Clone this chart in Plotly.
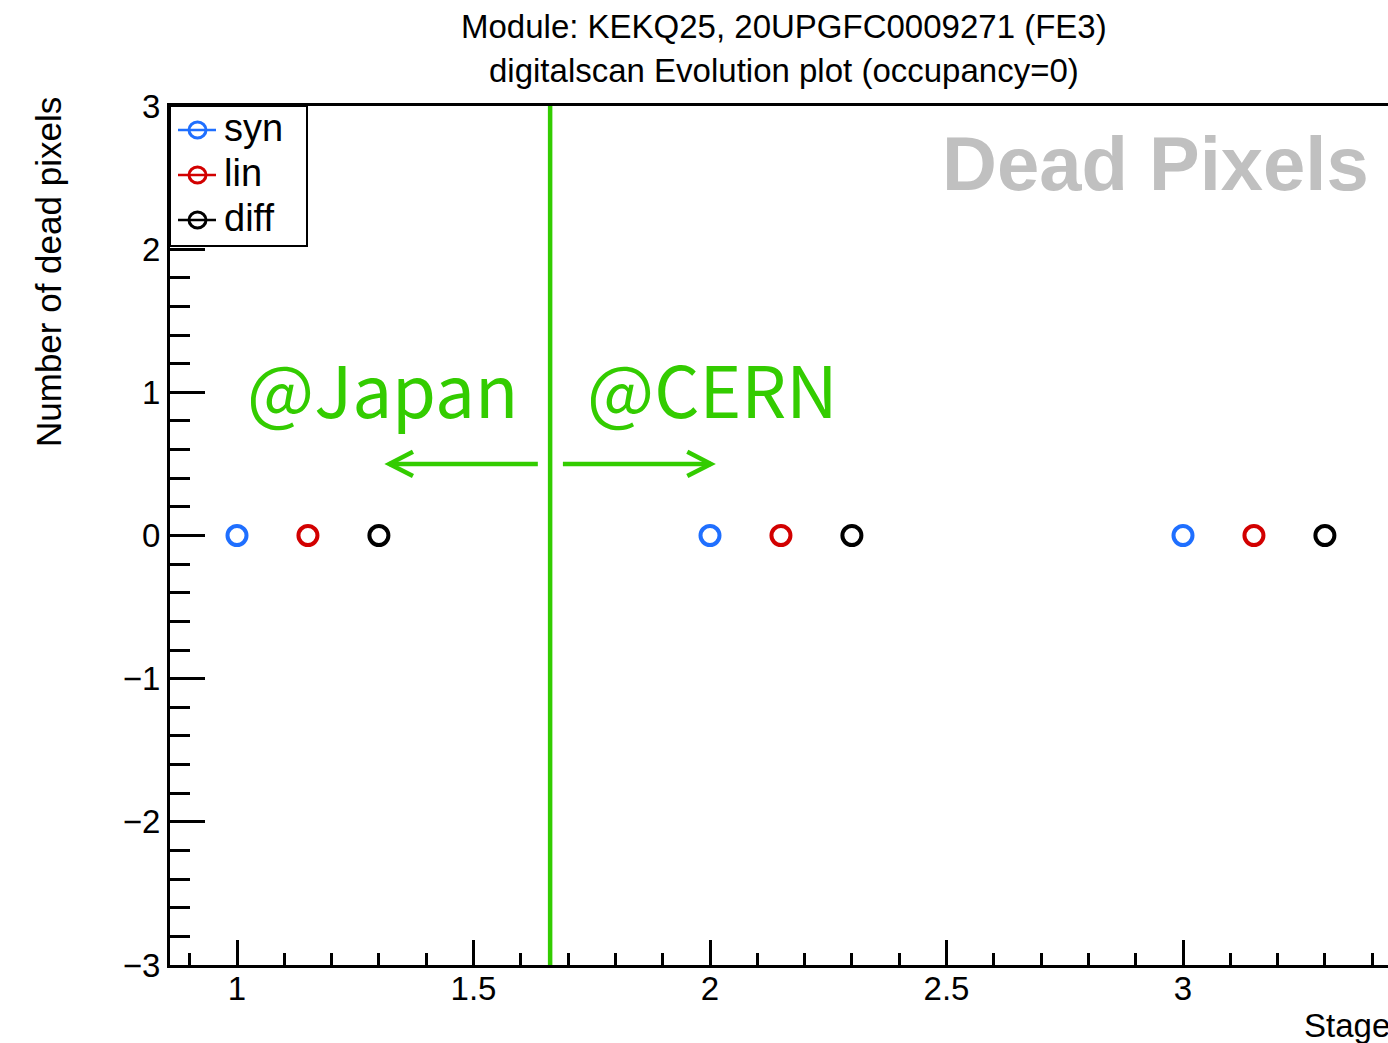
import plotly.graph_objects as go

# ---- data ----
syn_x = [1.0, 2.0, 3.0]
syn_y = [0, 0, 0]
lin_x = [1.15, 2.15, 3.15]
lin_y = [0, 0, 0]
diff_x = [1.3, 2.3, 3.3]
diff_y = [0, 0, 0]
series_names = ["syn", "lin", "diff"]
series_colors = ["#1f6fff", "#d20000", "#000000"]
site_boundary = 1.662
title_lines = ["Module: KEKQ25, 20UPGFC0009271 (FE3)",
               "digitalscan Evolution plot (occupancy=0)"]

# body margin removed via post_script; figure placed at (0,0)
OFF = 0
W, H = 1388, 1043
PL, PT, PB = 170, 106, 965          # plot area in page px
L, T = PL - OFF, PT - OFF
R = 0
PR = OFF + W - R                    # right edge of plot area in page px
B = (OFF + H) - PB
PW, PH = PR - PL, PB - PT
GREEN = "#33cc00"
FONT = "Liberation Sans"

def px(xp):
    return (xp - PL) / PW

def py(yp):
    return (PB - yp) / PH

fig = go.Figure()
for name, xs, ys, col in zip(series_names, [syn_x, lin_x, diff_x], [syn_y, lin_y, diff_y], series_colors):
    fig.add_trace(go.Scatter(x=xs, y=ys, mode="markers", name=name, showlegend=False,
                             marker=dict(symbol="circle-open", size=19, color=col,
                                         line=dict(width=4, color=col))))

# manual ROOT-style legend
fig.add_shape(type="rect", xref="paper", yref="paper", x0=px(170), x1=px(307), y0=py(246), y1=py(106),
              line=dict(color="black", width=2), fillcolor="white", layer="above")
for i, (name, col) in enumerate(zip(series_names, series_colors)):
    yc = 130 + 45 * i
    fig.add_shape(type="line", xref="paper", yref="paper", x0=px(178), x1=px(216), y0=py(yc), y1=py(yc),
                  line=dict(color=col, width=2.5), layer="above")
    fig.add_shape(type="circle", xref="paper", yref="paper", x0=px(189), x1=px(206),
                  y0=py(yc + 8), y1=py(yc - 8), line=dict(color=col, width=3), layer="above")
    fig.add_annotation(x=px(222), y=py(yc - 2), xref="paper", yref="paper", text=name, showarrow=False,
                       xanchor="left", yanchor="middle", font=dict(family=FONT, size=38, color="black"))

# vertical green boundary
fig.add_shape(type="line", xref="x", yref="paper", x0=site_boundary, x1=site_boundary,
              y0=0, y1=1, line=dict(color=GREEN, width=4.5), layer="above")

# arrows
ay = 0.5
def arrow(x_tail, x_head):
    d = 0.05 if x_head > x_tail else -0.05
    fig.add_shape(type="line", xref="x", yref="y", x0=x_tail, x1=x_head, y0=ay, y1=ay,
                  line=dict(color=GREEN, width=4.5))
    fig.add_shape(type="path", xref="x", yref="y",
                  path=f"M {x_head - d},{ay + 0.085} L {x_head},{ay} L {x_head - d},{ay - 0.085}",
                  line=dict(color=GREEN, width=4.5))

arrow(site_boundary - 0.026, 1.322)
arrow(site_boundary + 0.027, 2.002)

for xt, txt in [(1.307, "@Japan"), (2.005, "@CERN")]:
    fig.add_annotation(x=xt, y=1.04, xref="x", yref="y", text=txt, showarrow=False,
                       font=dict(family="Noto Sans CJK JP", size=71, color=GREEN),
                       xanchor="center", yanchor="middle")

# watermark
fig.add_annotation(x=px(1371), y=py(163), xref="paper", yref="paper",
                   text="<b>Dead Pixels</b>", showarrow=False, xanchor="right", yanchor="middle",
                   font=dict(family=FONT, size=76, color="#c0c0c0"))

# titles
for i, line in enumerate(title_lines):
    fig.add_annotation(x=px(784), y=py(27 + 43 * i), xref="paper", yref="paper", text=line,
                       showarrow=False, xanchor="center", yanchor="middle",
                       font=dict(family=FONT, size=33, color="black"))

# axis titles
fig.add_annotation(x=px(48), y=py(272), xref="paper", yref="paper",
                   text="Number of dead pixels", textangle=-90, showarrow=False,
                   xanchor="center", yanchor="middle", font=dict(family=FONT, size=35, color="black"))
fig.add_annotation(x=px(1302), y=py(1025), xref="paper", yref="paper",
                   text="Stage", showarrow=False, xanchor="left", yanchor="middle",
                   font=dict(family=FONT, size=33, color="black"))

x_per_px = 1 / 473.0
x0 = 1 - (237 - PL) * x_per_px
x1 = x0 + PW * x_per_px

fig.update_layout(
    width=W, height=H,
    margin=dict(l=L, r=R, t=T, b=B, pad=0),
    paper_bgcolor="white", plot_bgcolor="white",
    font=dict(family=FONT, size=33, color="black"),
    showlegend=False,
    xaxis=dict(range=[x0, x1], showgrid=False, zeroline=False, showline=True,
               linecolor="black", linewidth=3, mirror=True,
               ticks="inside", ticklen=25, tickwidth=3, tickcolor="black",
               tick0=0, dtick=0.5, ticklabelstandoff=-8,
               minor=dict(ticks="inside", ticklen=12, tickwidth=2.5, tickcolor="black", dtick=0.1, showgrid=False),
               tickfont=dict(size=33, family=FONT)),
    yaxis=dict(range=[-3, 3], showgrid=False, zeroline=False, showline=True,
               linecolor="black", linewidth=3, mirror=False,
               ticks="inside", ticklen=35, tickwidth=3, tickcolor="black",
               tick0=0, dtick=1,
               minor=dict(ticks="inside", ticklen=20, tickwidth=2.5, tickcolor="black", dtick=0.2, showgrid=False),
               tickfont=dict(size=33, family=FONT)),
)

fig.write_html("out.html", config={"displayModeBar": False},
               post_script="document.body.style.margin='0';document.body.style.overflow='hidden';")
